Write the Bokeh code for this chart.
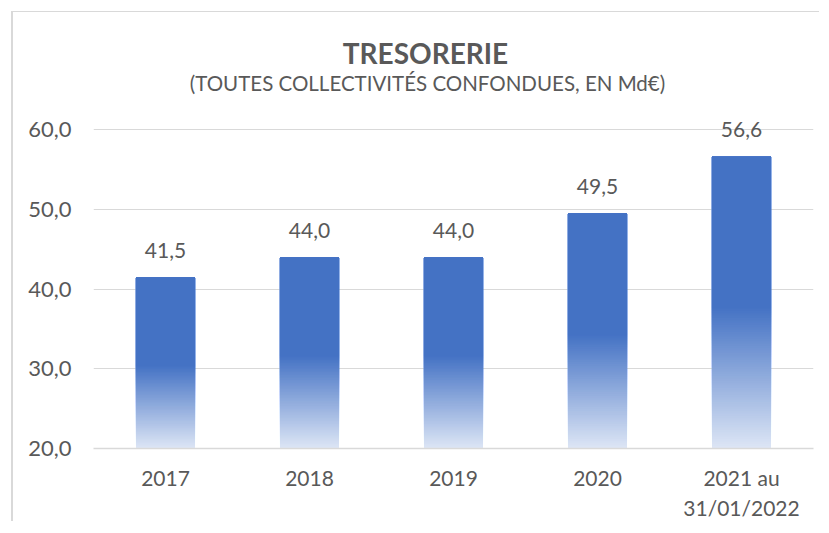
from bokeh.plotting import figure
from bokeh.models import Label, FixedTicker, CustomJSTickFormatter, ColumnDataSource, Range1d
from bokeh.embed import file_html
from bokeh.resources import INLINE
from bokeh.core.properties import value

# ---- data ----
categories = ["2017", "2018", "2019", "2020", "2021 au\n31/01/2022"]
tresorerie = [41.5, 44.0, 44.0, 49.5, 56.6]
y_ticks = [20, 30, 40, 50, 60]
title_text = "TRESORERIE"
subtitle_text = "(TOUTES COLLECTIVITÉS CONFONDUES, EN Md€)"

# ---- style ----
FONT = "Lato"
TXT = "#595959"
GRID = "#D9D9D9"
TOP_COL = (68, 114, 196)
BOT_COL = (220, 229, 245)
GRAD_STOP = 0.48
N_STEPS = 60
BASE = y_ticks[0]

p = figure(
    x_range=categories,
    y_range=Range1d(BASE, 74.7),
    width=808, height=510,
    output_backend="svg", toolbar_location=None,
    title_location=None,
    min_border_left=80, min_border_right=8,
    min_border_top=0, min_border_bottom=70,
)
p.styles = {"margin-left": "11px", "margin-top": "11px",
            "border-left": "2px solid #D9D9D9", "border-top": "1px solid #D9D9D9"}
p.outline_line_color = None
p.background_fill_color = "white"
p.border_fill_color = "white"

# gradient bars built from the data values
xs, bottoms, tops, colors = [], [], [], []
for cat, v in zip(categories, tresorerie):
    h = v - BASE
    for k in range(N_STEPS + 1):
        f = k / N_STEPS
        c = tuple(int(round(BOT_COL[i] + (TOP_COL[i] - BOT_COL[i]) * f)) for i in range(3))
        xs.append(cat)
        bottoms.append(BASE + h * GRAD_STOP * f)
        tops.append(v)
        colors.append("#%02x%02x%02x" % c)

src = ColumnDataSource(dict(x=xs, bottom=bottoms, top=tops, color=colors))
p.vbar(x="x", bottom="bottom", top="top", width=0.41, fill_color="color",
       line_color=None, source=src)

# value labels
lab_src = ColumnDataSource(dict(x=categories, y=tresorerie,
                                t=[f"{v:.1f}".replace(".", ",") for v in tresorerie]))
p.text(x="x", y="y", text="t", source=lab_src, text_align="center",
       text_baseline="alphabetic", y_offset=-27, text_font=value(FONT),
       text_font_size="21px", text_color=TXT)

# axes
p.yaxis.ticker = FixedTicker(ticks=y_ticks)
p.yaxis.formatter = CustomJSTickFormatter(code="return tick.toFixed(1).replace('.', ',');")
p.yaxis.axis_line_color = None
p.yaxis.major_tick_line_color = None
p.yaxis.minor_tick_line_color = None
p.yaxis.major_label_standoff = 16
p.yaxis.major_label_text_font = FONT
p.yaxis.major_label_text_font_size = "22px"
p.yaxis.major_label_text_color = TXT

p.xaxis.axis_line_color = GRID
p.xaxis.axis_line_width = 1.5
p.xaxis.major_tick_line_color = None
p.xaxis.minor_tick_line_color = None
p.xaxis.major_label_standoff = 10
p.xaxis.major_label_text_font = FONT
p.xaxis.major_label_text_font_size = "21px"
p.xaxis.major_label_text_color = TXT

p.xgrid.grid_line_color = None
p.ygrid.grid_line_color = GRID
p.ygrid.grid_line_width = 1
p.ygrid.ticker = FixedTicker(ticks=y_ticks)

# titles
p.add_layout(Label(x=332, y=396, x_units="screen", y_units="screen", text=title_text,
                   text_align="center", text_baseline="alphabetic", text_font=FONT,
                   text_font_size="28px", text_font_style="bold", text_color=TXT))
p.add_layout(Label(x=334, y=366, x_units="screen", y_units="screen", text=subtitle_text,
                   text_align="center", text_baseline="alphabetic", text_font=FONT,
                   text_font_size="20.5px", text_color=TXT))

open("out.html", "w").write(file_html(p, INLINE))
